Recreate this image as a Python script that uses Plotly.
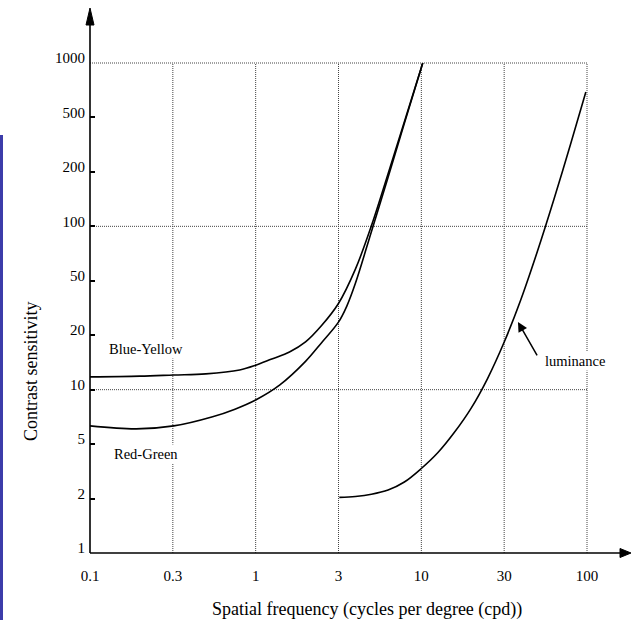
import math
import plotly.graph_objects as go

# ---- data ----
# x axis ticks are spaced at half decades; labels as printed
x_tick_vals = [0.1, 10 ** -0.5, 1, 10 ** 0.5, 10, 10 ** 1.5, 100]
x_tick_text = ["0.1", "0.3", "1", "3", "10", "30", "100"]
x_grid_vals = [10 ** -0.5, 1, 10 ** 0.5, 10, 10 ** 1.5, 100]
# y axis ticks are spaced at thirds of a decade; labels as printed
y_tick_vals = [1, 10 ** (1 / 3), 10 ** (2 / 3), 10, 10 ** (4 / 3), 10 ** (5 / 3), 100, 10 ** (7 / 3), 10 ** (8 / 3), 1000]
y_tick_text = ["1", "2", "5", "10", "20", "50", "100", "200", "500", "1000"]
y_grid_vals = [10, 100, 1000]

blue_yellow_x = [0.1, 0.2, 0.32, 0.5, 0.8, 1.0, 1.25, 1.6, 2.0, 2.5, 3.16, 4.0, 5.0, 6.3, 7.9, 10.2]
blue_yellow_y = [11.97, 12.1, 12.3, 12.5, 13.2, 14.1, 15.4, 17.0, 19.6, 24.7, 33.7, 54.7, 101, 210, 437, 1000]

red_green_x = [0.1, 0.19, 0.32, 0.55, 0.75, 1.0, 1.4, 2.0, 2.5, 3.16, 3.55, 4.0, 5.0, 6.3, 7.9, 10.2]
red_green_y = [6.0, 5.75, 6.0, 6.83, 7.6, 8.65, 10.7, 14.9, 19.4, 25.9, 32.5, 44.8, 93, 200, 427, 1000]

luminance_x = [3.2, 4.0, 5.0, 6.3, 7.9, 10.0, 12.6, 15.8, 20.0, 25.1, 31.6, 39.8, 50.1, 63.1, 79.4, 98.4]
luminance_y = [2.19, 2.22, 2.29, 2.43, 2.72, 3.29, 4.12, 5.46, 7.71, 11.7, 19.5, 35.4, 69.9, 146, 316, 665]

FONT = "Liberation Serif, Times New Roman, serif"
W, H = 631, 620
ML, MR, MT, MB = 90, 44, 63, 67
PW, PH = W - ML - MR, H - MT - MB
X_LOG0, X_DEC = -1, 3   # x range in decades
Y_LOG0, Y_DEC = 0, 3    # y range in decades


def px2paper_x(px):
    return (px - ML) / PW


def px2paper_y(py):
    return (H - MB - py) / PH


def xv2paper(v):
    return (math.log10(v) - X_LOG0) / X_DEC


def yv2paper(v):
    return (math.log10(v) - Y_LOG0) / Y_DEC


line_style = dict(color="black", width=1.6, shape="spline", smoothing=1.0)

fig = go.Figure()
fig.add_trace(go.Scatter(x=blue_yellow_x, y=blue_yellow_y, mode="lines", line=line_style, name="Blue-Yellow"))
fig.add_trace(go.Scatter(x=red_green_x, y=red_green_y, mode="lines", line=line_style, name="Red-Green"))
fig.add_trace(go.Scatter(x=luminance_x, y=luminance_y, mode="lines", line=line_style, name="luminance"))

fig.update_layout(
    width=W, height=H,
    margin=dict(l=ML, r=MR, t=MT, b=MB, autoexpand=False),
    paper_bgcolor="white", plot_bgcolor="white",
    showlegend=False, hovermode=False,
    font=dict(family=FONT, color="black", size=15),
    xaxis=dict(type="log", range=[X_LOG0, X_LOG0 + X_DEC], tickvals=x_tick_vals, ticktext=x_tick_text,
               ticks="", showline=False, zeroline=False, showgrid=False, automargin=False,
               ticklabelstandoff=12, tickfont=dict(size=15, family=FONT)),
    yaxis=dict(type="log", range=[Y_LOG0, Y_LOG0 + Y_DEC], tickvals=y_tick_vals, ticktext=y_tick_text,
               ticks="inside", ticklen=5, tickwidth=1.5, tickcolor="black",
               showline=False, zeroline=False, showgrid=False, automargin=False,
               ticklabelstandoff=4, ticklabelshift=-5, tickfont=dict(size=15, family=FONT)),
)

# dotted grid lines
grid_line = dict(color="#444444", width=1, dash="1px,1px")
for v in x_grid_vals:
    fig.add_shape(type="line", xref="paper", yref="paper", x0=xv2paper(v), x1=xv2paper(v),
                  y0=0, y1=1, line=grid_line, layer="below")
for v in y_grid_vals:
    fig.add_shape(type="line", xref="paper", yref="paper", x0=0, x1=1,
                  y0=yv2paper(v), y1=yv2paper(v), line=grid_line, layer="below")

# axis lines with arrow heads
x_end = px2paper_x(631)
y_end = px2paper_y(8)
fig.add_shape(type="line", xref="paper", yref="paper", x0=0, y0=0, x1=px2paper_x(622), y1=0,
              line=dict(color="black", width=1.6))
fig.add_shape(type="line", xref="paper", yref="paper", x0=0, y0=0, x1=0, y1=px2paper_y(22),
              line=dict(color="black", width=1.6))
hx = 4.5 / PH
fig.add_shape(type="path", xref="paper", yref="paper",
              path=f"M {x_end} 0 L {px2paper_x(620)} {hx} L {px2paper_x(620)} {-hx} Z",
              fillcolor="black", line=dict(color="black", width=1))
hy = 4 / PW
fig.add_shape(type="path", xref="paper", yref="paper",
              path=f"M 0 {y_end} L {-hy} {px2paper_y(25)} L {hy} {px2paper_y(25)} Z",
              fillcolor="black", line=dict(color="black", width=1))

# blue bar at the left edge
fig.add_shape(type="rect", xref="paper", yref="paper",
              x0=px2paper_x(0), x1=px2paper_x(3), y0=px2paper_y(622), y1=px2paper_y(135),
              fillcolor="#3c3caa", line=dict(width=0))

# curve labels
lab_font = dict(family=FONT, size=14.5, color="black")
fig.add_annotation(x=math.log10(0.218), y=math.log10(17.75), text="Blue-Yellow", showarrow=False,
                   xanchor="center", yanchor="middle",
                   font=lab_font, bgcolor="white", borderpad=1)
fig.add_annotation(x=math.log10(0.218), y=math.log10(4.04), text="Red-Green", showarrow=False,
                   xanchor="center", yanchor="middle",
                   font=lab_font, bgcolor="white", borderpad=1)
fig.add_annotation(x=math.log10(84.5), y=math.log10(15.0), text="luminance", showarrow=False,
                   xanchor="center", yanchor="middle",
                   font=lab_font, bgcolor="white", borderpad=1)
fig.add_annotation(x=math.log10(38.3), y=math.log10(26.0), text="", showarrow=True,
                   ax=20, ay=35, axref="pixel", ayref="pixel",
                   arrowhead=2, arrowsize=1.3, arrowwidth=1.5, arrowcolor="black")

# axis titles
fig.add_annotation(xref="paper", yref="paper", x=px2paper_x(367), y=px2paper_y(609),
                   xanchor="center", yanchor="middle",
                   text="Spatial frequency (cycles per degree (cpd))", showarrow=False,
                   font=dict(family=FONT, size=18, color="black"))
fig.add_annotation(xref="paper", yref="paper", x=px2paper_x(31), y=px2paper_y(371),
                   xanchor="center", yanchor="middle",
                   text="Contrast sensitivity", showarrow=False, textangle=-90,
                   font=dict(family=FONT, size=18, color="black"))

fig.write_html("out.html", config={"displayModeBar": False},
               post_script="document.body.style.margin='0px';")
